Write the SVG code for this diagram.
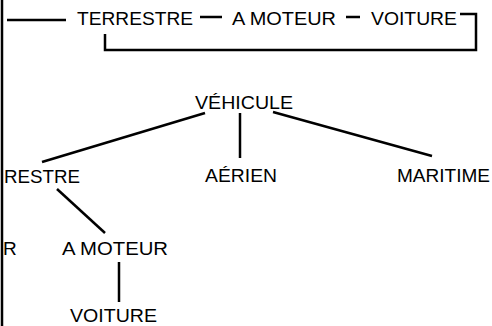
<svg xmlns="http://www.w3.org/2000/svg" width="492" height="326" viewBox="0 0 492 326">
<style>
text{font-family:"Liberation Sans",Arial,Helvetica,sans-serif;font-size:19px;fill:#000}
.l{stroke:#000;stroke-width:2.5;fill:none;stroke-linecap:butt}
</style>
<rect width="492" height="326" fill="#fff"/>
<line class="l" x1="2" y1="0" x2="2" y2="326" stroke-width="3"/>
<g id="linear">
<text x="77" y="25" textLength="116" lengthAdjust="spacingAndGlyphs">TERRESTRE</text>
<text x="232" y="25" textLength="104" lengthAdjust="spacingAndGlyphs">A MOTEUR</text>
<text x="371" y="25" textLength="86" lengthAdjust="spacingAndGlyphs">VOITURE</text>
<path class="l" d="M7 20H66M200 17H222M346 17H360M460 14H476V50H105V34"/>
</g>
<g id="vehicule"><text x="195" y="109" textLength="98" lengthAdjust="spacingAndGlyphs">VÉHICULE</text></g>
<g id="terrestre"><text x="4" y="183" textLength="76" lengthAdjust="spacingAndGlyphs">RESTRE</text></g>
<g id="aerien"><text x="205" y="182" textLength="72" lengthAdjust="spacingAndGlyphs">AÉRIEN</text></g>
<g id="maritime"><text x="397" y="182" textLength="93" lengthAdjust="spacingAndGlyphs">MARITIME</text></g>
<g id="r"><text x="3" y="255">R</text></g>
<g id="a-moteur"><text x="62" y="255" textLength="106" lengthAdjust="spacingAndGlyphs">A MOTEUR</text></g>
<g id="voiture"><text x="70" y="322" textLength="87" lengthAdjust="spacingAndGlyphs">VOITURE</text></g>
<g id="connectors">
<line class="l" x1="42" y1="162" x2="205" y2="113"/>
<line class="l" x1="240" y1="113" x2="240" y2="158"/>
<line class="l" x1="273" y1="112" x2="432" y2="156"/>
<line class="l" x1="57" y1="189" x2="105" y2="233"/>
<line class="l" x1="119" y1="262" x2="119" y2="302"/>
</g>
</svg>
